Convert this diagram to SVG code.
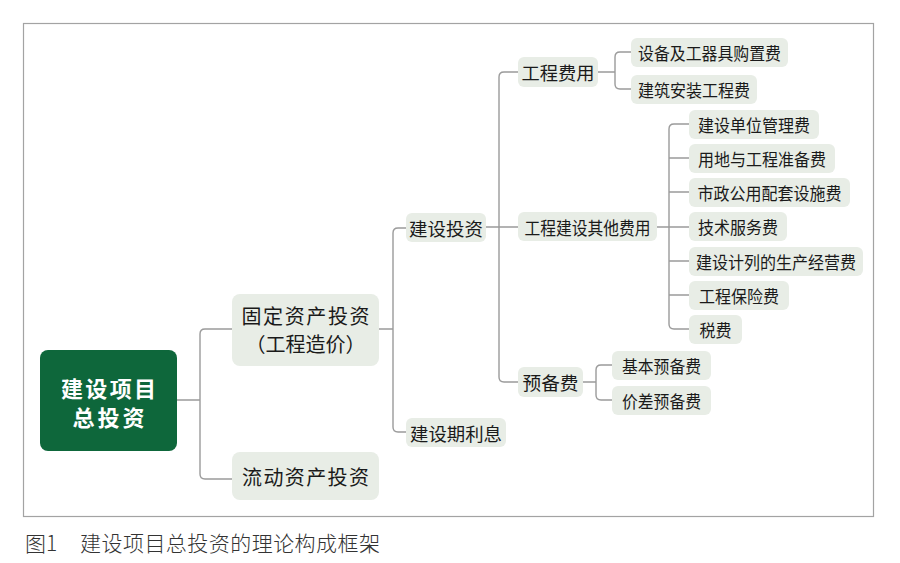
<svg xmlns="http://www.w3.org/2000/svg" width="900" height="563" viewBox="0 0 900 563">
<style>
.n{fill:#e8ede6}
.t{font-family:"Noto Sans CJK SC","Noto Sans",sans-serif;font-size:17px;fill:#1a1a1a;text-anchor:middle;dominant-baseline:central}
.m{font-size:18px}
.l1{font-size:20px}
.r{font-family:"Noto Sans CJK SC","Noto Sans",sans-serif;font-size:22px;font-weight:bold;fill:#ffffff;text-anchor:middle;dominant-baseline:central}
.c{fill:none;stroke:#9b9b9b;stroke-width:1.4}
.cap{font-family:"Noto Sans CJK SC","Noto Sans",sans-serif;font-size:21px;font-weight:300;fill:#333333;dominant-baseline:central}
</style>
<rect x="23.5" y="23.5" width="850" height="493" fill="#ffffff" stroke="#a3a3a3" stroke-width="1.2"/>
<g id="connectors" class="c">
<path d="M177 400H200M232 329H205Q200 329 200 334V474Q200 479 205 479H232"/>
<path d="M379 329H393M406 228H398Q393 228 393 233V427Q393 432 398 432H406"/>
<path d="M486 227H518M518 72H504Q499 72 499 77V377Q499 382 504 382H518"/>
<path d="M598 72H615M631 52H620Q615 52 615 57V84Q615 89 620 89H631"/>
<path d="M657 227H689M689 124H674Q669 124 669 129V324Q669 329 674 329H689M669 158H689M669 192H689M669 261H689M669 295H689"/>
<path d="M583 382H596M612 365H601Q596 365 596 370V395Q596 400 601 400H612"/>
</g>
<g id="root"><rect x="40" y="350" width="137" height="101" rx="8" fill="#0e673b"/><text class="r" x="108.5" y="387" textLength="95" lengthAdjust="spacing">建设项目</text><text class="r" x="108.5" y="416" textLength="72" lengthAdjust="spacing">总投资</text></g>
<g id="n-gd"><rect class="n" x="232" y="294" width="147" height="72" rx="8"/><text class="t l1" x="305.5" y="315" textLength="128" lengthAdjust="spacing">固定资产投资</text><text class="t l1" x="305.5" y="343">（工程造价）</text></g>
<g id="n-ld"><rect class="n" x="232" y="452" width="147" height="48" rx="8"/><text class="t l1" x="305.5" y="476" textLength="127" lengthAdjust="spacing">流动资产投资</text></g>
<g id="n-jstz"><rect class="n" x="406" y="213" width="80" height="29" rx="6"/><text class="t m" x="446" y="227.5" textLength="74" lengthAdjust="spacingAndGlyphs">建设投资</text></g>
<g id="n-jsqlx"><rect class="n" x="406" y="418" width="100" height="29" rx="6"/><text class="t m" x="456" y="432.5" textLength="92" lengthAdjust="spacingAndGlyphs">建设期利息</text></g>
<g id="n-gcfy"><rect class="n" x="518" y="57" width="80" height="30" rx="6"/><text class="t m" x="558" y="72" textLength="73" lengthAdjust="spacingAndGlyphs">工程费用</text></g>
<g id="n-qtfy"><rect class="n" x="518" y="212" width="139" height="29" rx="6"/><text class="t m" x="587.5" y="226.5" textLength="126" lengthAdjust="spacingAndGlyphs">工程建设其他费用</text></g>
<g id="n-ybf"><rect class="n" x="518" y="367" width="65" height="30" rx="6"/><text class="t m" x="550.5" y="382" textLength="56" lengthAdjust="spacingAndGlyphs">预备费</text></g>
<g id="n-sb"><rect class="n" x="631" y="38" width="157" height="29" rx="6"/><text class="t" x="709.5" y="52.5" textLength="143" lengthAdjust="spacingAndGlyphs">设备及工器具购置费</text></g>
<g id="n-jz"><rect class="n" x="631" y="75" width="126" height="29" rx="6"/><text class="t" x="694" y="89.5" textLength="112" lengthAdjust="spacingAndGlyphs">建筑安装工程费</text></g>
<g id="n-q1"><rect class="n" x="689" y="110" width="130" height="29" rx="6"/><text class="t" x="754" y="124.5" textLength="112" lengthAdjust="spacingAndGlyphs">建设单位管理费</text></g>
<g id="n-q2"><rect class="n" x="689" y="144" width="146" height="29" rx="6"/><text class="t" x="762" y="158.5" textLength="128" lengthAdjust="spacingAndGlyphs">用地与工程准备费</text></g>
<g id="n-q3"><rect class="n" x="689" y="178" width="161" height="29" rx="6"/><text class="t" x="769.5" y="192.5" textLength="144" lengthAdjust="spacingAndGlyphs">市政公用配套设施费</text></g>
<g id="n-q4"><rect class="n" x="689" y="212" width="98" height="29" rx="6"/><text class="t" x="738" y="226.5" textLength="80" lengthAdjust="spacingAndGlyphs">技术服务费</text></g>
<g id="n-q5"><rect class="n" x="689" y="247" width="174" height="29" rx="6"/><text class="t" x="776" y="261.5" textLength="160" lengthAdjust="spacingAndGlyphs">建设计列的生产经营费</text></g>
<g id="n-q6"><rect class="n" x="689" y="281" width="100" height="29" rx="6"/><text class="t" x="739" y="295.5" textLength="80" lengthAdjust="spacingAndGlyphs">工程保险费</text></g>
<g id="n-q7"><rect class="n" x="689" y="315" width="53" height="29" rx="6"/><text class="t" x="715.5" y="329.5" textLength="32" lengthAdjust="spacingAndGlyphs">税费</text></g>
<g id="n-jb"><rect class="n" x="612" y="351" width="99" height="29" rx="6"/><text class="t" x="661.5" y="365.5" textLength="79" lengthAdjust="spacingAndGlyphs">基本预备费</text></g>
<g id="n-jc"><rect class="n" x="612" y="386" width="99" height="29" rx="6"/><text class="t" x="661.5" y="400.5" textLength="79" lengthAdjust="spacingAndGlyphs">价差预备费</text></g>
<text class="cap" x="25" y="542">图1</text>
<text class="cap" x="80" y="542" textLength="300" lengthAdjust="spacing">建设项目总投资的理论构成框架</text>
</svg>
